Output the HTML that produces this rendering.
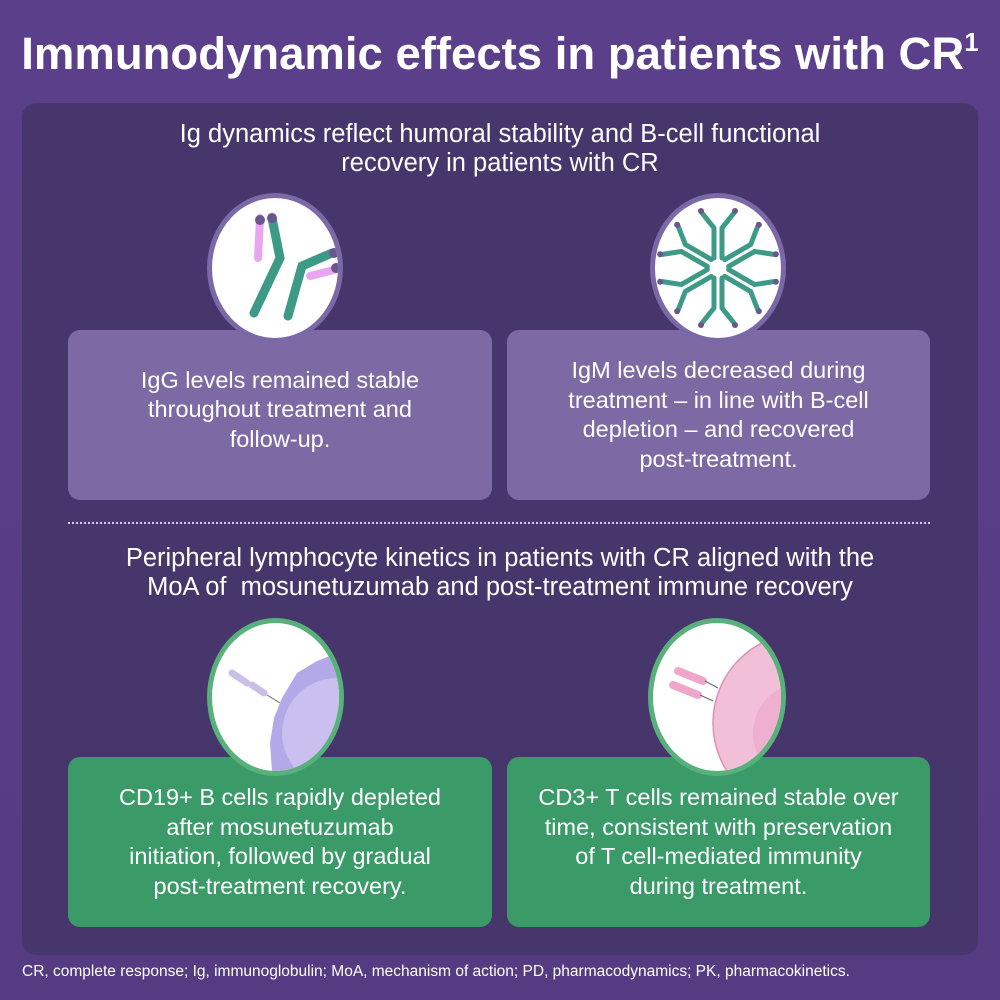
<!DOCTYPE html>
<html><head><meta charset="utf-8"><style>
*{margin:0;padding:0;box-sizing:border-box}
body{width:1000px;height:1000px;background:linear-gradient(180deg,#5b3f8a,#553c82);font-family:"Liberation Sans",sans-serif;color:#fff;position:relative;overflow:hidden}
.t{position:absolute;left:0;width:1000px;text-align:center;font-weight:bold;font-size:45.5px;top:27px;white-space:nowrap}
.t sup{font-size:26px;vertical-align:18px}
.panel{position:absolute;left:22px;top:103px;width:956px;height:852px;background:#47366c;border-radius:14px}
.h{position:absolute;left:0;width:1000px;text-align:center;font-size:25.5px;line-height:29px;white-space:nowrap}
.box{position:absolute;border-radius:12px;text-align:center;font-size:23.5px;line-height:29.5px;display:flex;align-items:center;justify-content:center;white-space:nowrap}
.p{background:#7d6aa4}
.g{background:#3a9a68}
.c{position:absolute;border-radius:50%;background:#fff;overflow:hidden}
.dots{position:absolute;left:68px;top:522px;width:862px;border-top:2px dotted #d9d0ea}
.f{position:absolute;left:22px;top:963px;font-size:15.5px;white-space:nowrap}
</style></head><body>
<div class="t">Immunodynamic effects in patients with CR<sup>1</sup></div>
<div class="panel"></div>
<div class="h" style="top:120px">Ig dynamics reflect humoral stability and B-cell functional<br>recovery in patients with CR</div>
<div class="box p" style="left:68px;top:330px;width:424px;height:170px;padding-bottom:10px">IgG levels remained stable<br>throughout treatment and<br>follow-up.</div>
<div class="box p" style="left:507px;top:330px;width:423px;height:170px">IgM levels decreased during<br>treatment – in line with B-cell<br>depletion – and recovered<br>post-treatment.</div>
<div class="c" style="left:207px;top:193px;width:136px;height:150px;border:5px solid #7b68a6">
<svg width="126" height="140" viewBox="0 0 126 140">
<g stroke-linecap="round" fill="none">
<path d="M60 20 L68 60 L42 115" stroke="#3d9a87" stroke-width="9"/>
<path d="M48 20 L46 60" stroke="#e8a6f0" stroke-width="8"/>
<path d="M76 118 L90 68 L120 55" stroke="#3d9a87" stroke-width="9"/>
<path d="M98 78 L122 72" stroke="#e8a6f0" stroke-width="8"/>
<circle cx="48" cy="22" r="5" fill="#6a558f"/><circle cx="60" cy="20" r="5" fill="#6a558f"/>
<circle cx="122" cy="55" r="5" fill="#6a558f"/><circle cx="124" cy="70" r="5" fill="#6a558f"/>
</g></svg></div>
<div class="c" style="left:650px;top:193px;width:136px;height:150px;border:5px solid #7b68a6">
<svg width="126" height="140" viewBox="0 0 126 140"><g stroke="#3d9a87" stroke-width="5" stroke-linecap="round" fill="none" transform="translate(63,70)">
<g id="a"><path d="M-4 -10 L-4 -40 L-16 -55 M4 -10 L4 -40 L16 -55"/><circle cx="-17" cy="-57" r="3" fill="#6a558f" stroke="none"/><circle cx="17" cy="-57" r="3" fill="#6a558f" stroke="none"/></g>
<use href="#a" transform="rotate(60)"/><use href="#a" transform="rotate(120)"/><use href="#a" transform="rotate(180)"/><use href="#a" transform="rotate(240)"/><use href="#a" transform="rotate(300)"/>
</g></svg></div>
<div class="dots"></div>
<div class="h" style="top:544px">Peripheral lymphocyte kinetics in patients with CR aligned with the<br>MoA of&nbsp; mosunetuzumab and post-treatment immune recovery</div>
<div class="box g" style="left:68px;top:757px;width:424px;height:170px">CD19+ B cells rapidly depleted<br>after mosunetuzumab<br>initiation, followed by gradual<br>post-treatment recovery.</div>
<div class="box g" style="left:507px;top:757px;width:423px;height:170px">CD3+ T cells remained stable over<br>time, consistent with preservation<br>of T cell-mediated immunity<br>during treatment.</div>
<div class="c" style="left:207px;top:618px;width:137px;height:158px;border:5px solid #58b07a">
<svg width="127" height="148" viewBox="0 0 127 148">
<path d="M60 148 L58 120 L62 95 L70 75 L85 50 L105 38 L125 30 L127 148Z" fill="#b3a8e8"/>
<circle cx="125" cy="110" r="55" fill="#c9c0f0"/>
<path d="M20 50 L35 60" stroke="#c9bfe8" stroke-width="7" stroke-linecap="round"/>
<path d="M40 62 L52 70" stroke="#c9bfe8" stroke-width="7" stroke-linecap="round"/>
<path d="M55 72 L68 80" stroke="#666" stroke-width="1"/>
</svg></div>
<div class="c" style="left:648px;top:618px;width:138px;height:158px;border:5px solid #58b07a">
<svg width="128" height="148" viewBox="0 0 128 148">
<circle cx="150" cy="100" r="90" fill="#f2bfd9" stroke="#e58cb5" stroke-width="1.5"/>
<circle cx="150" cy="110" r="50" fill="#eeafd0"/>
<path d="M25 48 L50 58 M20 62 L45 72" stroke="#f0a6c8" stroke-width="8" stroke-linecap="round"/>
<path d="M52 58 L65 65 M47 72 L60 78" stroke="#666" stroke-width="1"/>
</svg></div>
<div class="f">CR, complete response; Ig, immunoglobulin; MoA, mechanism of action; PD, pharmacodynamics; PK, pharmacokinetics.</div>
</body></html>
